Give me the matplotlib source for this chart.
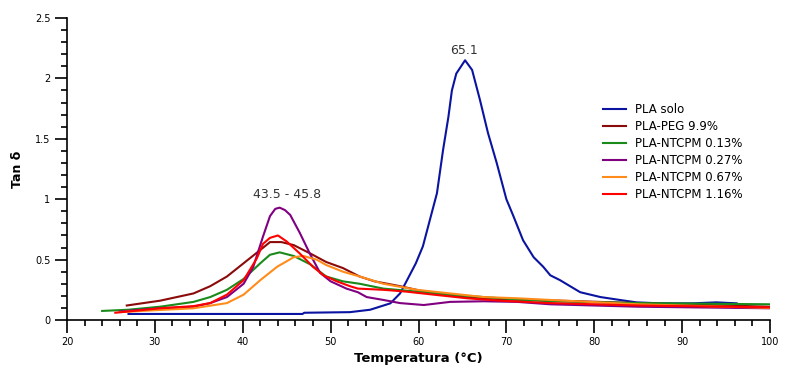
import matplotlib
matplotlib.use("Agg")
import matplotlib.pyplot as plt
from matplotlib.ticker import MultipleLocator

# ---- data ----
pla_x = [27.0, 46.8, 47.0, 52.2, 54.5, 56.8, 57.9, 58.7, 59.7, 60.5, 61.3, 62.1, 62.8, 63.4, 63.8, 64.3, 65.3,
         66.1, 67.0, 67.9, 68.9, 70.0, 70.8, 71.9, 73.1, 74.2, 75.0, 76.1, 78.4, 80.7, 82.9, 84.8,
         87.5, 91.2, 93.9, 96.2]
pla_y = [0.05, 0.05, 0.06, 0.065, 0.085, 0.138, 0.22, 0.33, 0.47, 0.61, 0.83, 1.05, 1.41, 1.68, 1.90, 2.04, 2.15,
         2.07, 1.82, 1.55, 1.30, 1.00, 0.86, 0.66, 0.52, 0.44, 0.37, 0.33, 0.23, 0.19, 0.166, 0.146,
         0.138, 0.138, 0.146, 0.138]

peg_x = [26.8, 30.6, 34.4, 36.3, 38.2, 40.1, 42.0, 43.1, 44.4, 45.8, 47.7, 49.5, 51.4, 53.3, 55.0, 57.9,
         61.0, 65.0, 70.0, 76.0, 85.0, 95.0, 100.0]
peg_y = [0.12, 0.16, 0.22, 0.28, 0.36, 0.47, 0.58, 0.645, 0.645, 0.62, 0.55, 0.48, 0.43, 0.36, 0.32, 0.28,
         0.23, 0.19, 0.17, 0.16, 0.14, 0.12, 0.11]

n013_x = [24.0, 27.0, 30.6, 34.4, 36.3, 38.2, 40.1, 42.0, 43.1, 44.2, 45.8, 47.7, 49.5, 51.4, 53.3, 56.0,
          59.8, 63.6, 67.4, 71.2, 75.0, 85.0, 100.0]
n013_y = [0.075, 0.085, 0.11, 0.15, 0.19, 0.25, 0.34, 0.47, 0.54, 0.56, 0.53, 0.46, 0.36, 0.32, 0.30, 0.26,
          0.235, 0.21, 0.19, 0.17, 0.155, 0.14, 0.13]

n027_x = [26.0, 30.6, 34.4, 36.3, 38.2, 40.1, 41.2, 42.3, 43.1, 43.7, 44.2, 44.8, 45.4, 46.5, 47.7, 48.8,
          50.0, 51.8, 53.1, 54.1, 56.0, 57.9, 60.6, 63.6, 67.4, 71.2, 75.0, 85.0, 100.0]
n027_y = [0.07, 0.097, 0.11, 0.14, 0.19, 0.30, 0.44, 0.69, 0.86, 0.92, 0.93, 0.91, 0.87, 0.72, 0.54, 0.39,
          0.32, 0.26, 0.23, 0.19, 0.166, 0.14, 0.124, 0.15, 0.155, 0.15, 0.13, 0.11, 0.097]

n067_x = [26.0, 30.6, 34.4, 38.2, 40.1, 42.0, 43.9, 45.8, 46.9, 48.4, 49.5, 51.4, 53.3, 56.0, 59.8, 63.6,
          67.4, 71.2, 75.0, 85.0, 100.0]
n067_y = [0.065, 0.083, 0.097, 0.14, 0.21, 0.33, 0.44, 0.52, 0.53, 0.50, 0.455, 0.40, 0.36, 0.30, 0.25, 0.22,
          0.19, 0.18, 0.166, 0.13, 0.10]

n116_x = [25.5, 30.6, 34.4, 36.3, 38.2, 40.1, 41.6, 42.3, 43.1, 44.0, 45.0, 46.5, 48.0, 49.2, 50.7, 52.2,
          53.1, 56.0, 58.6, 61.7, 65.5, 69.3, 75.0, 85.0, 100.0]
n116_y = [0.06, 0.097, 0.115, 0.14, 0.21, 0.33, 0.51, 0.63, 0.68, 0.70, 0.65, 0.55, 0.44, 0.37, 0.32, 0.28,
          0.26, 0.25, 0.235, 0.21, 0.18, 0.16, 0.14, 0.12, 0.105]

series_labels = ["PLA solo", "PLA-PEG 9.9%", "PLA-NTCPM 0.13%", "PLA-NTCPM 0.27%",
                 "PLA-NTCPM 0.67%", "PLA-NTCPM 1.16%"]
colors = ["#0a14a0", "#8b0a0a", "#1a8a1a", "#800080", "#ff8c1a", "#ff0000"]

fig = plt.figure(figsize=(7.87, 3.74), dpi=100)
ax = fig.add_axes([67 / 787, 1 - 320 / 374, (770 - 67) / 787, (320 - 18) / 374])

series = [(pla_x, pla_y), (peg_x, peg_y), (n013_x, n013_y), (n027_x, n027_y), (n067_x, n067_y), (n116_x, n116_y)]
for (xs, ys), lab, c in zip(series, series_labels, colors):
    ax.plot(xs, ys, color=c, lw=1.5, label=lab)

ax.set_xlim(20, 100)
ax.set_ylim(0, 2.5)
ax.xaxis.set_major_locator(MultipleLocator(10))
ax.xaxis.set_minor_locator(MultipleLocator(2))
ax.yaxis.set_major_locator(MultipleLocator(0.5))
ax.yaxis.set_minor_locator(MultipleLocator(0.1))
ax.yaxis.set_major_formatter(plt.FuncFormatter(lambda v, p: f"{v:g}"))
for s in ["top", "right"]:
    ax.spines[s].set_visible(False)
for s in ["left", "bottom"]:
    ax.spines[s].set_linewidth(1.2)
ax.tick_params(which="major", length=9, width=1.2, labelsize=7, colors="black", pad=3)
ax.tick_params(which="minor", length=4.5, width=1.2)

ax.set_xlabel("Temperatura (°C)", fontsize=9.5, fontweight="bold", labelpad=4)
ax.set_ylabel("Tan δ", fontsize=9, fontweight="bold", labelpad=8)

ax.text(65.2, 2.23, "65.1", ha="center", va="center", fontsize=9, color="#333333")
ax.text(45.0, 1.04, "43.5 - 45.8", ha="center", va="center", fontsize=9, color="#333333")

leg = ax.legend(loc="upper left", bbox_to_anchor=(0.7557, 0.733), frameon=False, fontsize=8.5,
                handlelength=1.95, labelspacing=0.34, handletextpad=0.75, borderaxespad=0)

fig.savefig("out.png", dpi=100)
